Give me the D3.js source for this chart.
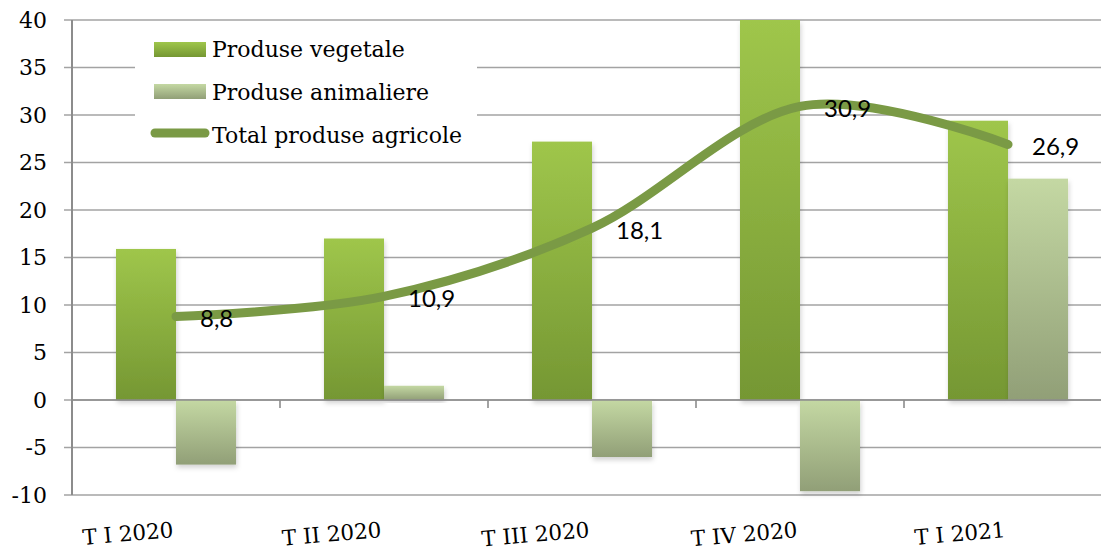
<!DOCTYPE html>
<html>
<head>
<meta charset="utf-8">
<script src="https://cdn.jsdelivr.net/npm/d3@7/dist/d3.min.js"></script>
<style>
  html, body { margin: 0; padding: 0; background: #fff; }
  svg { display: block; }
</style>
</head>
<body>
<svg id="chart" width="1101" height="550"></svg>
<script>
const categories = ["T I 2020", "T II 2020", "T III 2020", "T IV 2020", "T I 2021"];
const vegetale = [15.9, 17.0, 27.2, 40.0, 29.4];
const animaliere = [-6.8, 1.5, -6.0, -9.6, 23.3];
const total = [8.8, 10.9, 18.1, 30.9, 26.9];
const totalLabels = ["8,8", "10,9", "18,1", "30,9", "26,9"];
const seriesNames = ["Produse vegetale", "Produse animaliere", "Total produse agricole"];
const yTicks = [-10, -5, 0, 5, 10, 15, 20, 25, 30, 35, 40];

(function () {
const svg = d3.select("#chart");
const pLeft = 72, pRight = 1112, pTop = 20, pBottom = 495;

const x = d3.scaleBand().domain(categories).range([pLeft, pRight]).padding(0);
const inner = d3.scaleBand().domain([0, 1])
  .range([x.bandwidth() * 0.2115, x.bandwidth() * 0.7885]).padding(0);
const y = d3.scaleLinear().domain([-10, 40]).range([pBottom, pTop]);

const defs = svg.append("defs");
const g1 = defs.append("linearGradient").attr("id", "gVeg").attr("x1", 0).attr("y1", 0).attr("x2", 0).attr("y2", 1);
g1.append("stop").attr("offset", "0%").attr("stop-color", "#9fc64b");
g1.append("stop").attr("offset", "100%").attr("stop-color", "#759733");
const g2 = defs.append("linearGradient").attr("id", "gAni").attr("x1", 0).attr("y1", 0).attr("x2", 0).attr("y2", 1);
g2.append("stop").attr("offset", "0%").attr("stop-color", "#c4d8a3");
g2.append("stop").attr("offset", "100%").attr("stop-color", "#919f77");
const f = defs.append("filter").attr("id", "shadow").attr("x", "-20%").attr("y", "-20%").attr("width", "140%").attr("height", "140%");
f.append("feDropShadow").attr("dx", 1).attr("dy", 3).attr("stdDeviation", 2.5)
  .attr("flood-color", "#000").attr("flood-opacity", 0.18);

const gridColor = "#a3a3a3";
const serif = "'DejaVu Serif', serif";

// gridlines (with outward ticks)
svg.append("g").selectAll("line").data(yTicks).join("line")
  .attr("x1", pLeft - 8).attr("x2", pRight)
  .attr("y1", d => y(d)).attr("y2", d => y(d))
  .attr("stroke", gridColor).attr("stroke-width", 1.6);

// y tick labels
svg.append("g").selectAll("text").data(yTicks).join("text")
  .attr("x", 47).attr("y", d => y(d))
  .attr("dy", "0.36em")
  .attr("text-anchor", "end")
  .attr("font-family", serif).attr("font-size", 22).attr("fill", "#000")
  .text(d => d);

// legend background
svg.append("rect").attr("x", 135).attr("y", 26).attr("width", 342).attr("height", 128).attr("fill", "#fff");

// y axis line
svg.append("line").attr("x1", pLeft).attr("x2", pLeft).attr("y1", pTop).attr("y2", pBottom)
  .attr("stroke", "#8c8c8c").attr("stroke-width", 2);

// x axis ticks
svg.append("g").selectAll("line").data(d3.range(categories.length + 1)).join("line")
  .attr("x1", i => pLeft + i * x.step()).attr("x2", i => pLeft + i * x.step())
  .attr("y1", y(0)).attr("y2", y(0) + 8)
  .attr("stroke", "#8c8c8c").attr("stroke-width", 1.6);

// bars
const barData = [];
categories.forEach((c, i) => {
  barData.push({ c, s: 0, v: vegetale[i] });
  barData.push({ c, s: 1, v: animaliere[i] });
});
svg.append("g").selectAll("rect").data(barData).join("rect")
  .attr("x", d => x(d.c) + inner(d.s))
  .attr("width", inner.bandwidth())
  .attr("y", d => y(Math.max(0, d.v)))
  .attr("height", d => Math.abs(y(d.v) - y(0)))
  .attr("fill", d => d.s === 0 ? "url(#gVeg)" : "url(#gAni)")
  .attr("filter", "url(#shadow)");

// x axis line at zero
svg.append("line").attr("x1", pLeft).attr("x2", pRight).attr("y1", y(0)).attr("y2", y(0))
  .attr("stroke", "#8c8c8c").attr("stroke-width", 1.6);

// total line
const pts = categories.map((c, i) => [x(c) + x.bandwidth() / 2, y(total[i])]);
svg.append("path").datum(pts)
  .attr("d", d3.line().curve(d3.curveCardinal.tension(0)))
  .attr("fill", "none").attr("stroke", "#7a9a45").attr("stroke-width", 9)
  .attr("stroke-linecap", "round").attr("stroke-linejoin", "round");

// data labels
svg.append("g").selectAll("text").data(pts).join("text")
  .attr("x", d => d[0] + 24).attr("y", d => d[1] + 2)
  .attr("dy", "0.36em")
  .attr("font-family", "Lato, 'Open Sans', sans-serif").attr("font-size", 24).attr("fill", "#000")
  .text((d, i) => totalLabels[i]);

// x labels (slightly rotated)
svg.append("g").selectAll("text").data(categories).join("text")
  .attr("transform", c => `translate(${x(c) + x.bandwidth() / 2 - 2},${537}) rotate(-5)`)
  .attr("text-anchor", "end")
  .attr("font-family", serif).attr("font-size", 21.5).attr("fill", "#000")
  .text(c => c);

// legend
const lg = svg.append("g");
lg.append("rect").attr("x", 154).attr("y", 42).attr("width", 52).attr("height", 15).attr("fill", "url(#gVeg)");
lg.append("rect").attr("x", 154).attr("y", 84).attr("width", 52).attr("height", 15).attr("fill", "url(#gAni)");
lg.append("line").attr("x1", 155).attr("x2", 205).attr("y1", 133).attr("y2", 133)
  .attr("stroke", "#7a9a45").attr("stroke-width", 9).attr("stroke-linecap", "round");
const ly = [57, 100, 143];
lg.selectAll("text.lt").data(seriesNames).join("text").attr("class", "lt")
  .attr("x", 212).attr("y", (d, i) => ly[i])
  .attr("font-family", serif).attr("font-size", 22).attr("fill", "#000")
  .text(d => d);
})();
</script>
</body>
</html>
